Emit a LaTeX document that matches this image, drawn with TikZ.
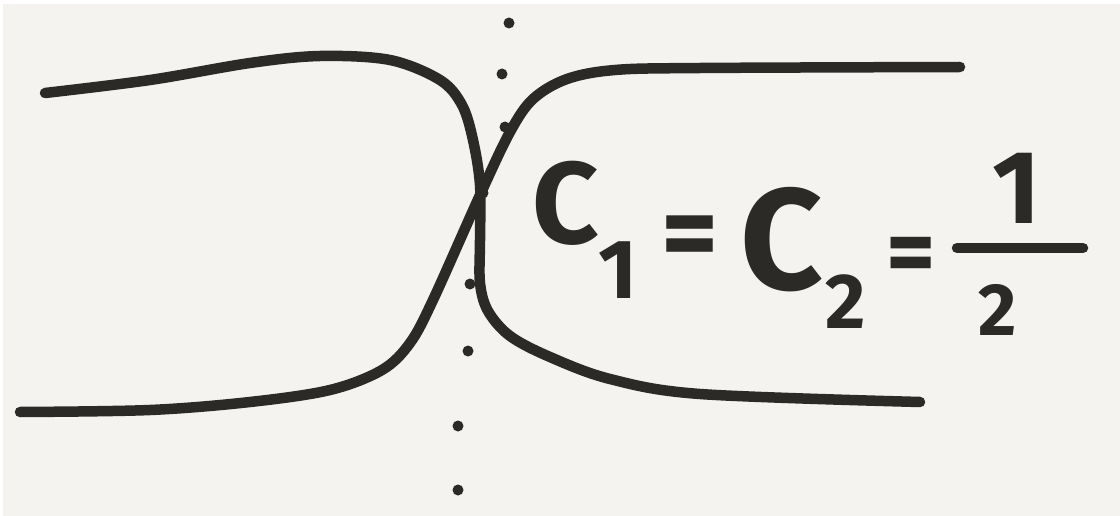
\documentclass[tikz,border=0pt]{standalone}
\usepackage{fontspec}
\setsansfont{Fira Sans}
\usepackage{tikz}
\usetikzlibrary{positioning}
\definecolor{ink}{HTML}{2B2A27}
\definecolor{paper}{HTML}{F4F3EF}
\tikzset{
  stroke/.style={draw=ink, line width=10.5pt, line cap=round, line join=round},
  dotmark/.style={fill=ink},
  glyph/.style={inner sep=0pt, text=ink, font=\sffamily\bfseries\fontsize{#1}{#1}\selectfont},
  glyph/.default=120
}
\begin{document}
\begin{tikzpicture}[x=1pt, y=-1pt]
\useasboundingbox (0,0) rectangle (1120,516);
\fill[white] (0,0) rectangle (1120,516);
\fill[paper] (3,4) rectangle (1120,516);
% dotted vertical guide
\foreach \px/\py in {509/23, 502/74, 505/127, 483/193, 470/284, 468/351, 458/426, 458/490}
  \fill[dotmark] (\px,\py) circle (5.5);
% the two crossing strands
\draw[stroke] plot[smooth, tension=0.55] coordinates {(45,93) (150,80) (250,63) (320,56) (390,60) (440,80) (462,105) (473,140) (480,185) (480,240) (480,283) (488,311) (510,336) (550,357) (610,379) (700,394) (920,402)};
\draw[stroke] plot[smooth, tension=0.55] coordinates {(20,412) (150,410) (250,402) (330,390) (382,370) (410,343) (433,300) (480,195) (510,132) (533,99) (567,79) (615,70) (700,68) (960,67)};
% label
\node[glyph=116] (c1) at (566,203) {C};
\node[glyph=84] (s1) at (618,270) {1};
\node[glyph=110] (eq1) at (690,243) {=};
\node[glyph=144] (c2) at (782,240) {C};
\node[glyph=78] (s2) at (846,302) {2};
\node[glyph=95] (eq2) at (911,261) {=};
\node[glyph=104] (num) at (1017,188) {1};
\node[glyph=74] (den) at (998,310) {2};
\coordinate (barl) at (957,248);
\coordinate (barr) at (1083,248);
\draw[stroke] (barl) -- (barr);
\end{tikzpicture}
\end{document}
